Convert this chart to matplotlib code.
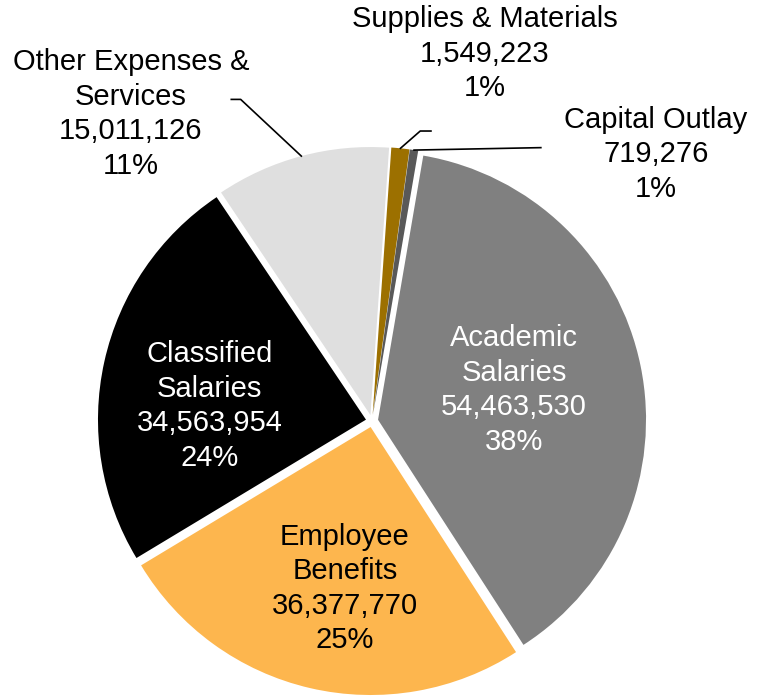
import numpy as np
import matplotlib
matplotlib.use("Agg")
import matplotlib.pyplot as plt

plt.rcParams['font.family'] = ['Liberation Sans', 'DejaVu Sans']

# pie order: clockwise from the top
names = ['Supplies & Materials', 'Capital Outlay', 'Academic\nSalaries',
         'Employee\nBenefits', 'Classified\nSalaries', 'Other Expenses &\nServices']
amounts = [1549223, 719276, 54463530, 36377770, 34563954, 15011126]
percents = ['1%', '1%', '38%', '25%', '24%', '11%']
colors = ['#9C7000', '#595959', '#808080', '#FDB64E', '#000000', '#DFDFDF']
text_colors = ['black', 'black', 'white', 'black', 'white', 'black']

# pixel layout of the pie
W, H = 767, 698
R = 268.0
cx, cy = 372.0, 421.0

fig = plt.figure(figsize=(W / 100, H / 100), dpi=100)
ax = fig.add_axes([0, 0, 1, 1])

wedges, _ = ax.pie(amounts, colors=colors, startangle=86, counterclock=False,
                   explode=[0.023] * len(amounts), radius=1.0,
                   wedgeprops=dict(linewidth=0))
ax.set_xlim(-cx / R, (W - cx) / R)
ax.set_ylim(-(H - cy) / R, cy / R)
ax.axis('off')

FS = 21
LS = 1.3

def label_text(i):
    return names[i] + '\n' + f'{amounts[i]:,}' + '\n' + percents[i]

# inside labels: (distance from centre as fraction of radius, angle shift from mid)
inside = {2: (0.52, 0.8), 3: (0.61, 4.0), 4: (0.585, 7.5)}
for i, (dist, shift) in inside.items():
    w = wedges[i]
    mid = np.deg2rad((w.theta1 + w.theta2) / 2 + shift)
    x = w.center[0] + dist * np.cos(mid)
    y = w.center[1] + dist * np.sin(mid)
    ax.text(x, y, label_text(i), ha='center', va='center', fontsize=FS,
            color=text_colors[i], linespacing=LS)

# outside labels with leader lines
outside = {
    5: dict(text=(-0.90, 1.145), path=[(-0.49, 1.20), (-0.525, 1.20)]),
    0: dict(text=(0.42, 1.37), path=[(0.18, 1.082), (0.22, 1.082)]),
    1: dict(text=(1.06, 0.995), path=[(0.63, 1.02)]),
}
for i, o in outside.items():
    w = wedges[i]
    mid = np.deg2rad((w.theta1 + w.theta2) / 2)
    px = w.center[0] + np.cos(mid)
    py = w.center[1] + np.sin(mid)
    xs = [px] + [p[0] for p in o['path']]
    ys = [py] + [p[1] for p in o['path']]
    ax.plot(xs, ys, color='black', lw=1.2)
    ax.text(o['text'][0], o['text'][1], label_text(i), ha='center', va='center',
            fontsize=FS, color='black', linespacing=LS)

fig.savefig('out.png', dpi=100)
